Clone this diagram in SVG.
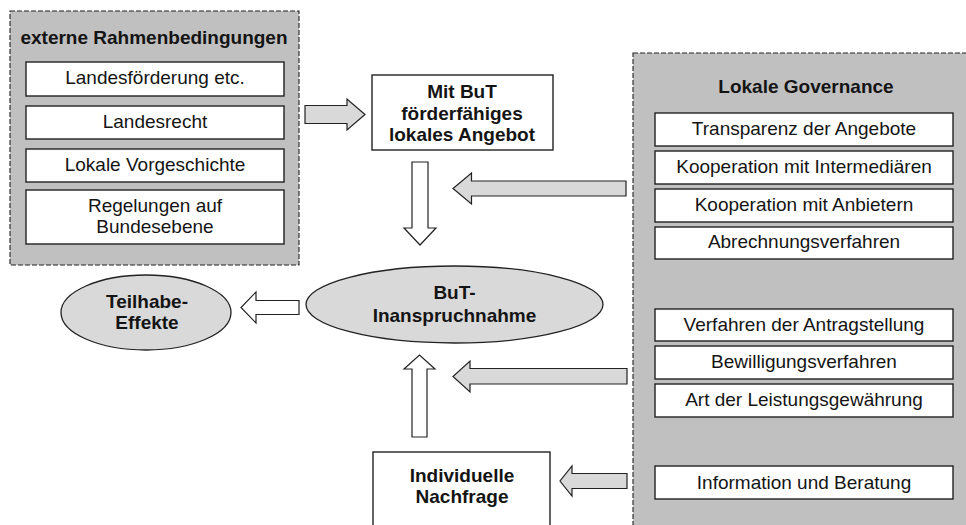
<svg xmlns="http://www.w3.org/2000/svg" width="966" height="525" viewBox="0 0 966 525">
<style>
text{font-family:"Liberation Sans",Arial,sans-serif;font-size:19px;fill:#141414;text-anchor:middle}
.b{font-weight:bold}
.cont{fill:#c0c0c0;stroke:#222;stroke-width:1.1;stroke-dasharray:5 2}
.box{fill:#fff;stroke:#222;stroke-width:1.4}
.ell{fill:#d9d9d9;stroke:#222;stroke-width:1.3}
.ga{fill:#d9d9d9;stroke:#222;stroke-width:1.2;stroke-linejoin:miter}
.wa{fill:#fff;stroke:#222;stroke-width:1.2;stroke-linejoin:miter}
</style>
<rect width="966" height="525" fill="#fff"/>
<g id="externe">
<rect class="cont" x="10" y="11" width="289" height="254"/>
<text class="b" x="154" y="44">externe Rahmenbedingungen</text>
<rect class="box" x="26" y="62" width="258" height="34"/>
<text x="155" y="84">Landesförderung etc.</text>
<rect class="box" x="26" y="106" width="258" height="33"/>
<text x="155" y="128">Landesrecht</text>
<rect class="box" x="26" y="149" width="258" height="33"/>
<text x="155" y="171">Lokale Vorgeschichte</text>
<rect class="box" x="26" y="190" width="258" height="54"/>
<text x="155" y="212">Regelungen auf</text>
<text x="155" y="233">Bundesebene</text>
</g>
<g id="governance">
<rect class="cont" x="633" y="53" width="345" height="490"/>
<text class="b" x="806" y="93">Lokale Governance</text>
<rect class="box" x="655" y="113" width="298" height="33"/>
<text x="804" y="135">Transparenz der Angebote</text>
<rect class="box" x="655" y="151" width="298" height="33"/>
<text x="804" y="173">Kooperation mit Intermediären</text>
<rect class="box" x="655" y="189" width="298" height="33"/>
<text x="804" y="211">Kooperation mit Anbietern</text>
<rect class="box" x="655" y="227" width="298" height="32"/>
<text x="804" y="248">Abrechnungsverfahren</text>
<rect class="box" x="655" y="309" width="298" height="32"/>
<text x="804" y="331">Verfahren der Antragstellung</text>
<rect class="box" x="655" y="346" width="298" height="33"/>
<text x="804" y="368">Bewilligungsverfahren</text>
<rect class="box" x="655" y="384" width="298" height="33"/>
<text x="804" y="406">Art der Leistungsgewährung</text>
<rect class="box" x="655" y="466" width="298" height="33"/>
<text x="804" y="489">Information und Beratung</text>
</g>
<g id="angebot">
<rect class="box" x="372" y="75" width="181" height="75"/>
<text class="b" x="462" y="98">Mit BuT</text>
<text class="b" x="462" y="120">förderfähiges</text>
<text class="b" x="462" y="141">lokales Angebot</text>
</g>
<g id="inanspruchnahme">
<ellipse class="ell" cx="454.5" cy="304.5" rx="148.5" ry="38.5"/>
<text class="b" x="454.5" y="299">BuT-</text>
<text class="b" x="454.5" y="322">Inanspruchnahme</text>
</g>
<g id="teilhabe">
<ellipse class="ell" cx="146" cy="312.5" rx="85" ry="37.5"/>
<text class="b" x="147" y="308">Teilhabe-</text>
<text class="b" x="147" y="329">Effekte</text>
</g>
<g id="nachfrage">
<rect class="box" x="373" y="452" width="177" height="80"/>
<text class="b" x="462" y="482">Individuelle</text>
<text class="b" x="462" y="503">Nachfrage</text>
</g>
<g id="connectors">
<polygon class="ga" points="305,105.5 347,105.5 347,99 365,114.5 347,130 347,123.5 305,123.5"/>
<polygon class="wa" points="412,162 428,162 428,228 436,228 420,245 404,228 412,228"/>
<polygon class="ga" points="626,181 471.5,181 471.5,173 453,188.5 471.5,204 471.5,196 626,196"/>
<polygon class="wa" points="299,300.5 256,300.5 256,292 241,307.5 256,323 256,314.5 299,314.5"/>
<polygon class="wa" points="412,437 427,437 427,369 435,369 419.5,355 404,369 412,369"/>
<polygon class="ga" points="627,368.5 470,368.5 470,361 453,376.5 470,392 470,384 627,384"/>
<polygon class="ga" points="627,473.5 572,473.5 572,466 560,481 572,496 572,488.5 627,488.5"/>
</g>
</svg>
